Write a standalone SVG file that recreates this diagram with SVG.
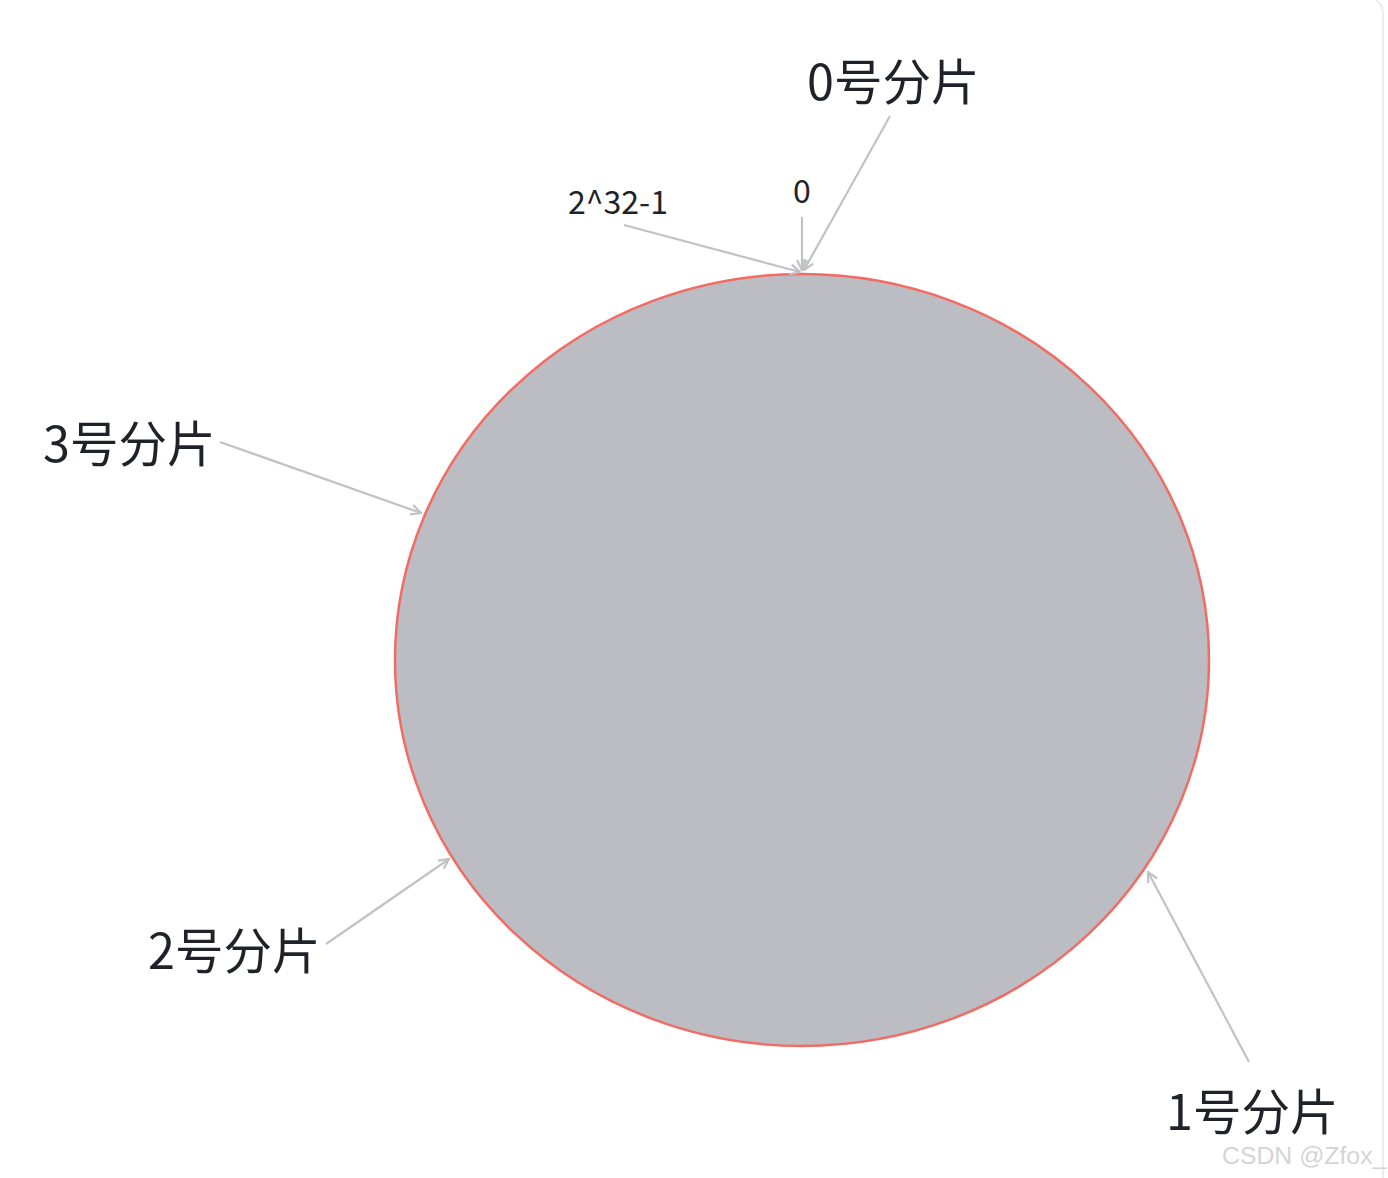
<svg xmlns="http://www.w3.org/2000/svg" width="1388" height="1178" viewBox="0 0 1388 1178">
<style>
.lbl{font-family:"Noto Sans CJK SC","Noto Sans",sans-serif;fill:#1f2329;}
.big{font-size:48.5px;}
.small{font-size:32px;}
.conn line{stroke:#c1c2c6;stroke-width:2.2;fill:none;marker-end:url(#arr);}
</style>
<defs>
<marker id="arr" viewBox="0 0 12 12" refX="11" refY="6" markerWidth="12" markerHeight="12" markerUnits="userSpaceOnUse" orient="auto">
<path d="M1,1 L11,6 L1,11" fill="none" stroke="#c1c2c6" stroke-width="2.2"/>
</marker>
</defs>
<rect width="1388" height="1178" fill="#ffffff"/>
<path d="M1376,0 Q1383,4 1383,14 L1383,1178" fill="none" stroke="#e6e7ea" stroke-width="1.5"/>
<g id="ring">
<ellipse cx="802" cy="660" rx="407" ry="386" fill="#bbbdc2" stroke="#f26b64" stroke-width="2.5"/>
</g>
<g id="shard0"><text class="lbl big" x="807" y="100">0号分片</text></g>
<g id="shard1"><text class="lbl big" x="1166" y="1130">1号分片</text></g>
<g id="shard2"><text class="lbl big" x="148" y="969">2号分片</text></g>
<g id="shard3"><text class="lbl big" x="43" y="462">3号分片</text></g>
<g id="label-max"><text class="lbl small" x="568" y="214">2^32-1</text></g>
<g id="label-zero"><text class="lbl small" x="793" y="203">0</text></g>
<g id="connectors" class="conn">
<line x1="890" y1="116" x2="804" y2="270"/>
<line x1="802" y1="217" x2="802" y2="270"/>
<line x1="624" y1="225" x2="800" y2="272"/>
<line x1="220" y1="442" x2="421" y2="513"/>
<line x1="326" y1="944" x2="449" y2="859"/>
<line x1="1249" y1="1062" x2="1148" y2="872"/>
</g>
<text x="1222" y="1164" font-family="Liberation Sans, Arial, sans-serif" font-size="24.8" fill="#d4d4d6">CSDN @Zfox_</text>
</svg>
